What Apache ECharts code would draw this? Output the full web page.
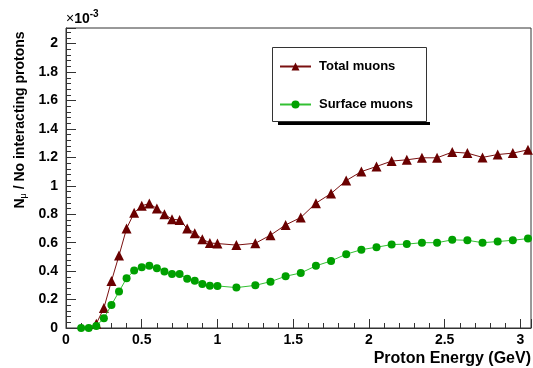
<!DOCTYPE html>
<html><head><meta charset="utf-8">
<script src="https://cdn.jsdelivr.net/npm/echarts@6/dist/echarts.min.js"></script>
<style>html,body{margin:0;padding:0;background:#fff}#c{width:533px;height:368px}</style>
</head><body><div id="c"></div>
<script>
const energy = [0.10,0.15,0.20,0.25,0.30,0.35,0.40,0.45,0.50,0.55,0.60,0.65,0.70,0.75,0.80,0.85,0.90,0.95,1.00,1.125,1.25,1.35,1.45,1.55,1.65,1.75,1.85,1.95,2.05,2.15,2.25,2.35,2.45,2.55,2.65,2.75,2.85,2.95,3.05];
const totalMuons = [0,0,0.03,0.14,0.33,0.51,0.70,0.81,0.86,0.875,0.84,0.80,0.765,0.76,0.70,0.667,0.625,0.598,0.594,0.583,0.596,0.653,0.725,0.777,0.878,0.946,1.037,1.10,1.136,1.174,1.183,1.197,1.197,1.237,1.23,1.20,1.22,1.23,1.253];
const surfaceMuons = [0,0,0.014,0.068,0.162,0.256,0.35,0.404,0.427,0.437,0.42,0.397,0.38,0.38,0.347,0.333,0.31,0.297,0.296,0.284,0.30,0.326,0.364,0.387,0.437,0.472,0.519,0.551,0.568,0.587,0.59,0.60,0.60,0.62,0.617,0.60,0.608,0.617,0.629];
const seriesNames = ['Total muons','Surface muons'];
const xTitle = 'Proton Energy (GeV)';
const yTitle = 'N{sub|μ} / No interacting protons';
const FONT = '"Liberation Sans", Arial, sans-serif';

const chart = echarts.init(document.getElementById('c'), null, {renderer:'canvas'});
const pair = (a) => energy.map((e,i)=>[e,a[i]]);
chart.setOption({
  animation:false,
  grid:{left:66,top:28,right:2,bottom:40,show:true,borderColor:'#333',borderWidth:1,backgroundColor:'transparent'},
  xAxis:{type:'value',min:0,max:3.07,interval:0.5,
    axisLine:{lineStyle:{color:'#333',width:1}},
    axisTick:{inside:true,length:9,lineStyle:{color:'#333'}},
    minorTick:{show:true,splitNumber:5,length:5,lineStyle:{color:'#333'}},
    splitLine:{show:false},
    axisLabel:{showMaxLabel:false,color:'#000',fontFamily:FONT,fontWeight:'bold',fontSize:14,margin:5}
  },
  yAxis:{type:'value',min:0,max:2.11,interval:0.2,
    axisLine:{show:true,lineStyle:{color:'#333',width:1}},
    axisTick:{inside:true,length:10,lineStyle:{color:'#333'}},
    minorTick:{show:true,splitNumber:5,length:5,lineStyle:{color:'#333'}},
    splitLine:{show:false},
    axisLabel:{showMaxLabel:false,color:'#000',fontFamily:FONT,fontWeight:'bold',fontSize:14,margin:8}
  },
  legend:{left:279,top:60,orient:'vertical',padding:0,itemGap:28,itemWidth:31,itemHeight:10,
    data:seriesNames,
    textStyle:{fontFamily:FONT,fontWeight:'bold',fontSize:13,color:'#000',padding:[0,0,0,3]}
  },
  graphic:[
    {type:'rect',z:1,shape:{x:278,y:122,width:152,height:3},style:{fill:'#000'}},
    {type:'rect',z:1,shape:{x:272.5,y:47.5,width:154,height:74},style:{fill:'#fff',stroke:'#333',lineWidth:1}},
    {type:'text',z:5,x:20,y:120,rotation:Math.PI/2,
      style:{text:yTitle,align:'center',verticalAlign:'middle',fontFamily:FONT,fontWeight:'bold',fontSize:14,fill:'#000',
        rich:{sub:{fontFamily:FONT,fontWeight:'normal',fontSize:9,padding:[8,0,0,0],fill:'#000'}}}},
    {type:'text',z:5,x:531,y:359,
      style:{text:xTitle,align:'right',verticalAlign:'middle',fontFamily:FONT,fontWeight:'bold',fontSize:16,fill:'#000'}},
    {type:'text',z:5,x:66,y:19,
      style:{text:'×{b|10}{sup|-3}',align:'left',verticalAlign:'middle',fontFamily:FONT,fontSize:14,fill:'#000',
        rich:{b:{fontFamily:FONT,fontSize:14,fontWeight:'bold',fill:'#000'},
              sup:{fontFamily:FONT,fontSize:10,fontWeight:'bold',padding:[0,0,9,0],fill:'#000'}}}}
  ],
  series:[
    {name:seriesNames[0],type:'line',data:pair(totalMuons),symbol:'triangle',
      symbolSize:(v)=> v[1] <= 0 ? 0 : 10,
      lineStyle:{color:'#7a1010',width:1},itemStyle:{color:'#6a0000'},z:3},
    {name:seriesNames[1],type:'line',data:pair(surfaceMuons),symbol:'circle',symbolSize:8,
      lineStyle:{color:'#33c033',width:1},itemStyle:{color:'#00a000'},z:4}
  ]
});
chart.setOption({legend:{itemGap:25}});
</script></body></html>
